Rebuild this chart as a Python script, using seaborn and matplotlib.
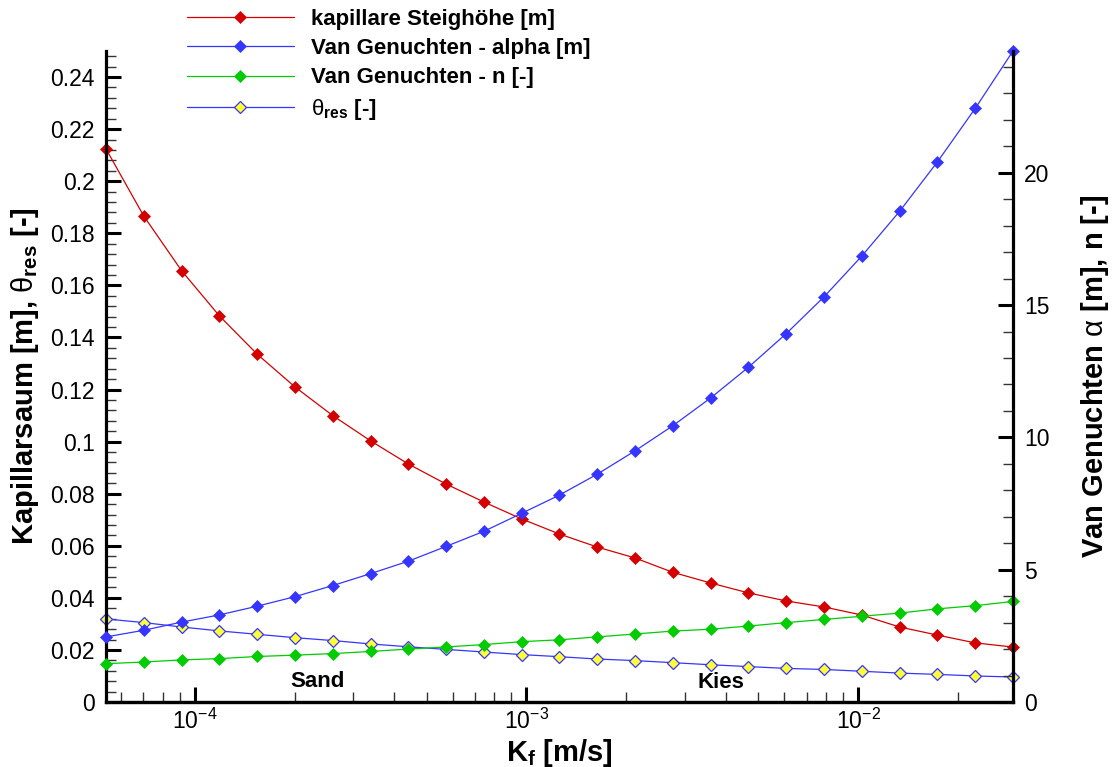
import numpy as np
import pandas as pd
import matplotlib.pyplot as plt
import matplotlib.ticker as mticker
import seaborn as sns

sns.set_style("ticks", rc={
    'axes.edgecolor': 'black',
    'axes.labelcolor': 'black',
    'text.color': 'black',
    'xtick.color': 'black',
    'ytick.color': 'black',
})
plt.rcParams['font.family'] = ['Liberation Sans', 'DejaVu Sans']
plt.rcParams['mathtext.fontset'] = 'custom'
plt.rcParams['mathtext.rm'] = 'Liberation Sans'
plt.rcParams['mathtext.bf'] = 'Liberation Sans:bold'
plt.rcParams['mathtext.it'] = 'Liberation Sans:italic'

# K_f [m/s]
kf = [5.40e-5, 7.02e-5, 9.13e-5, 1.186e-4, 1.542e-4, 2.005e-4, 2.606e-4,
      3.388e-4, 4.405e-4, 5.726e-4, 7.444e-4, 9.677e-4, 1.258e-3, 1.636e-3,
      2.126e-3, 2.764e-3, 3.594e-3, 4.672e-3, 6.073e-3, 7.895e-3, 1.026e-2,
      1.334e-2, 1.735e-2, 2.255e-2, 2.932e-2]
# left axis
steighoehe = [0.2124, 0.1866, 0.1656, 0.1483, 0.1336, 0.1210, 0.1100, 0.1003,
              0.0914, 0.0837, 0.0768, 0.0703, 0.0645, 0.0595, 0.0553, 0.0498,
              0.0457, 0.0419, 0.0388, 0.0365, 0.0334, 0.0288, 0.0257, 0.0227,
              0.0211]
theta_res = [0.0319, 0.0305, 0.0288, 0.0273, 0.0260, 0.0247, 0.0236, 0.0223,
             0.0212, 0.0202, 0.0192, 0.0182, 0.0174, 0.0165, 0.0159, 0.0151,
             0.0143, 0.0136, 0.0129, 0.0125, 0.0118, 0.0111, 0.0106, 0.0100,
             0.0096]
# right axis
vg_alpha = [2.46, 2.71, 3.02, 3.29, 3.62, 3.98, 4.40, 4.85, 5.32, 5.88, 6.45,
            7.13, 7.82, 8.61, 9.49, 10.44, 11.49, 12.65, 13.92, 15.31, 16.85,
            18.54, 20.41, 22.43, 24.6]
vg_n = [1.45, 1.51, 1.59, 1.64, 1.72, 1.77, 1.83, 1.91, 2.00, 2.08, 2.17, 2.28,
        2.35, 2.46, 2.57, 2.68, 2.75, 2.87, 3.00, 3.12, 3.24, 3.36, 3.52, 3.64,
        3.80]

labels = ['kapillare Steighöhe [m]', 'Van Genuchten - alpha [m]',
          'Van Genuchten - n [-]', r'$\mathrm{\theta}_{\mathbf{res}}$ [-]']

df = pd.DataFrame({'kf': kf, 'steig': steighoehe, 'theta': theta_res,
                   'alpha': vg_alpha, 'n': vg_n})

red = '#d40000'
blue = '#3535ff'
green = '#00cc00'
yellow = '#ffff33'

W, H = 1115, 767
fig = plt.figure(figsize=(W / 100, H / 100), dpi=100)
ax = fig.add_axes([106 / W, 1 - 702 / H, (1013 - 106) / W, (702 - 51) / H])
ax.set_xscale('log')
ax2 = ax.twinx()

common = dict(lw=0.9, marker='D', clip_on=False, legend=False)
sns.lineplot(data=df, x='kf', y='steig', ax=ax, color=red, markersize=6,
             markeredgecolor=red, markeredgewidth=0.5, **common)
sns.lineplot(data=df, x='kf', y='theta', ax=ax, color=blue, markersize=6.3,
             markerfacecolor=yellow, markeredgecolor=blue, markeredgewidth=0.9,
             **common)
sns.lineplot(data=df, x='kf', y='alpha', ax=ax2, color=blue, markersize=6,
             markeredgecolor=blue, markeredgewidth=0.5, **common)
sns.lineplot(data=df, x='kf', y='n', ax=ax2, color=green, markersize=6,
             markeredgecolor=green, markeredgewidth=0.5, **common)

ax.set_xlim(kf[0], kf[-1])
ax.set_ylim(0, 0.25)
ax2.set_ylim(0, 24.6)

ax.yaxis.set_major_locator(mticker.MultipleLocator(0.02))
ax.yaxis.set_minor_locator(mticker.MultipleLocator(0.004))
ax.yaxis.set_major_formatter(mticker.FormatStrFormatter('%g'))
ax2.yaxis.set_major_locator(mticker.MultipleLocator(5))
ax2.yaxis.set_minor_locator(mticker.MultipleLocator(1))
ax.xaxis.set_minor_locator(mticker.LogLocator(base=10, subs=np.arange(2, 10)))
ax.xaxis.set_minor_formatter(mticker.NullFormatter())

for a in (ax, ax2):
    a.spines['top'].set_visible(False)
    for s in a.spines.values():
        s.set_linewidth(2.3)
        s.set_color('black')
    a.tick_params(which='major', direction='in', length=11, width=2.2,
                  labelsize=16.5, colors='black')
    a.tick_params(which='minor', direction='in', length=7, width=1,
                  colors='#333333')
    a.grid(False)
ax.spines['right'].set_visible(False)
ax2.spines['left'].set_visible(False)
ax.tick_params(axis='y', which='both', right=False, pad=8)
ax.tick_params(axis='x', which='both', top=False, pad=5)
ax2.tick_params(axis='y', which='both', left=False, pad=8)

ax.set_xlabel(r'K$_{\mathbf{f}}$ [m/s]', fontsize=21, fontweight='bold',
              color='black')
ax.set_ylabel(r'Kapillarsaum [m], $\mathrm{\theta}_{\mathbf{res}}$ [-]',
              fontsize=21, fontweight='bold', color='black')
ax2.set_ylabel(r'Van Genuchten $\mathrm{\alpha}$ [m], n [-]',
               fontsize=21, fontweight='bold', color='black')
ax.xaxis.set_label_coords(0.5, -0.053)
ax.yaxis.set_label_coords(-0.072, 0.5)
ax2.yaxis.set_label_coords(1.073, 0.5)

ax.text(2.35e-4, 0.008, 'Sand', ha='center', va='center', fontsize=16,
        fontweight='bold', color='black')
ax.text(3.85e-3, 0.0075, 'Kies', ha='center', va='center', fontsize=16,
        fontweight='bold', color='black')

handles = [ax.lines[0], ax2.lines[0], ax2.lines[1], ax.lines[1]]
leg = fig.legend(handles, labels, loc='upper left',
                 bbox_to_anchor=(187 / W, 1 - 9 / H),
                 frameon=False, prop={'weight': 'bold', 'size': 16},
                 handlelength=4.8, handletextpad=0.8, labelspacing=0.37,
                 borderpad=0, borderaxespad=0)
for t in leg.get_texts():
    t.set_color('black')

fig.savefig('out.png', dpi=100)
